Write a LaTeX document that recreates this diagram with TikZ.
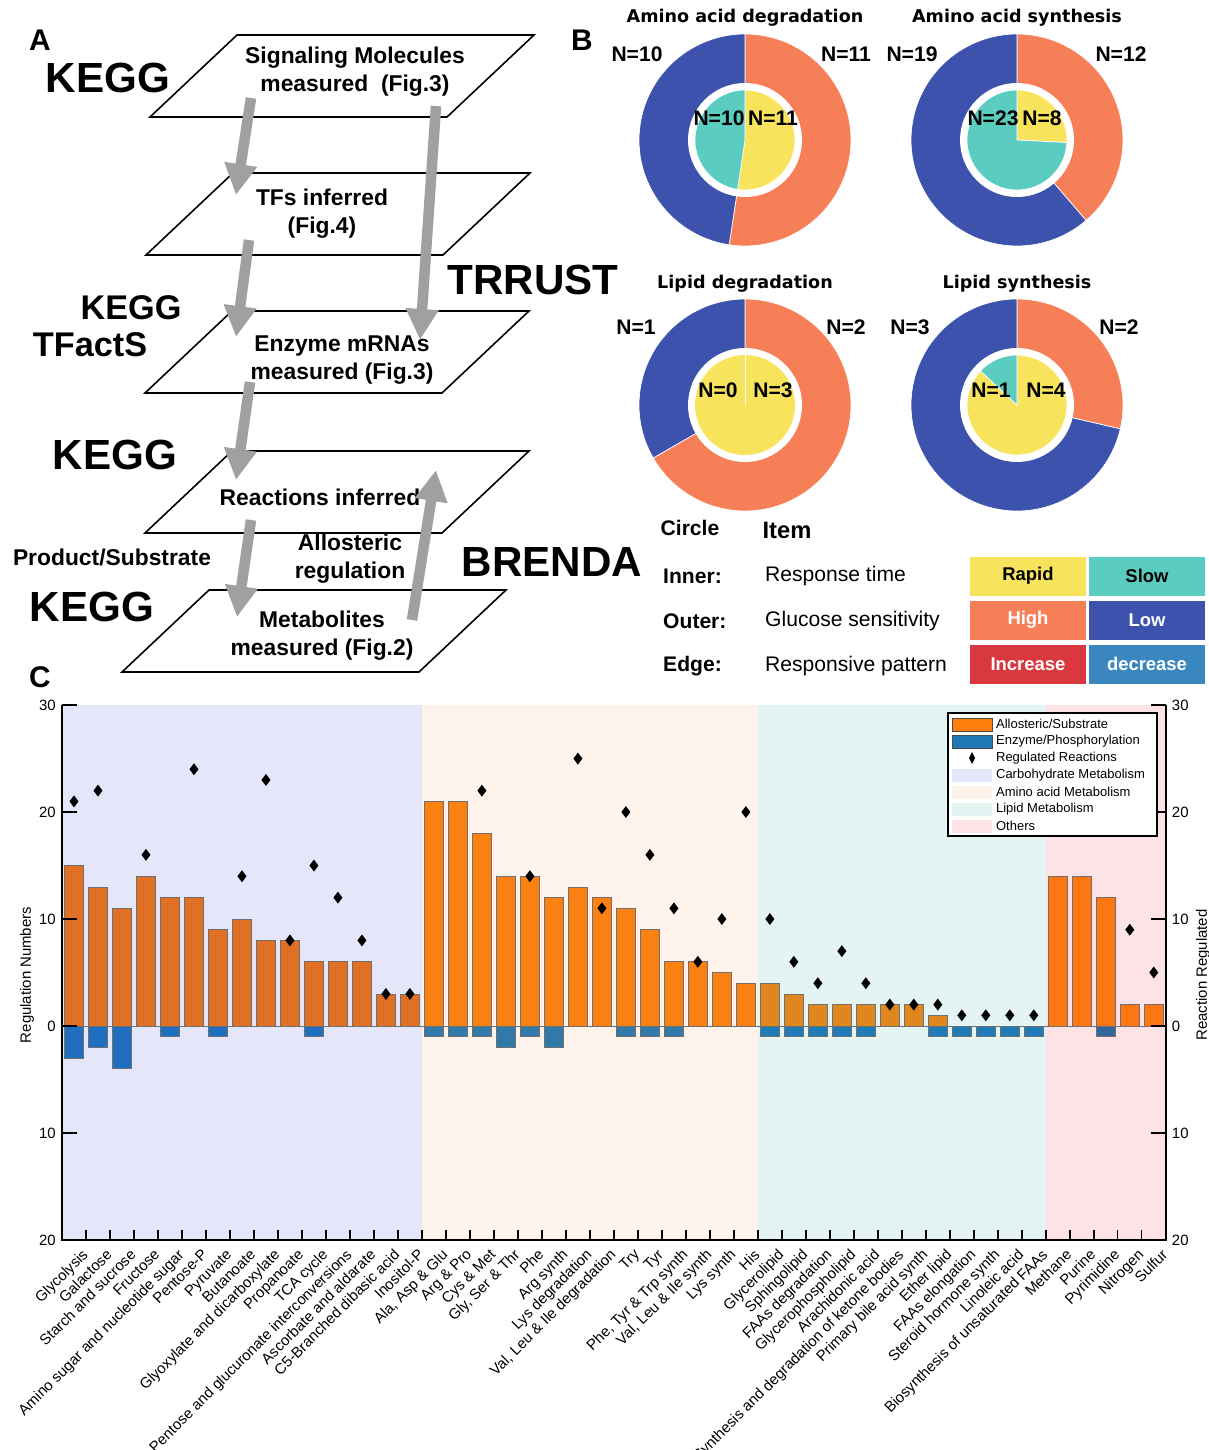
\documentclass[tikz,border=0pt]{standalone}
\usepackage{fontspec}
\setmainfont{Liberation Sans}
\newfontfamily\djv{DejaVu Sans}
\usetikzlibrary{arrows.meta}
\definecolor{pieor}{HTML}{F77F58}
\definecolor{piebl}{HTML}{3D52AC}
\definecolor{pieye}{HTML}{F8E45C}
\definecolor{pietl}{HTML}{5BCCC0}
\definecolor{incred}{HTML}{D9393E}
\definecolor{decbl}{HTML}{3A86BF}
\definecolor{bgcarb}{HTML}{E6E6FA}
\definecolor{bgamino}{HTML}{FDF3EA}
\definecolor{bglipid}{HTML}{E3F4F3}
\definecolor{bgother}{HTML}{FDE3E5}
\definecolor{arrgray}{HTML}{A0A0A0}
\definecolor{bargray}{HTML}{707070}
\definecolor{orcarb}{HTML}{E07024}
\definecolor{blcarb}{HTML}{1F6EBF}
\definecolor{oramino}{HTML}{FD8012}
\definecolor{blamino}{HTML}{3179A8}
\definecolor{orlipid}{HTML}{E0861F}
\definecolor{bllipid}{HTML}{1F7AB8}
\definecolor{orother}{HTML}{FE7612}
\definecolor{blother}{HTML}{33669F}
\definecolor{legor}{HTML}{FF7F0E}
\definecolor{legbl}{HTML}{1F77B4}

\newcommand{\plane}[2]{\draw[line width=0.9pt] (#1,#2) -- ++(297,0) -- ++(87,82) -- ++(-297,0) -- cycle;}
\newcommand{\slice}[5]{\fill[#5,draw=white,line width=0.4pt] (#1) -- ++(#2:#4) arc (#2:#3:#4) -- cycle;}
\newcommand{\barset}[4]{%
  \foreach \p/\n [count=\i from #1] in {#4} {
    \ifnum\p>0 \fill[#2,draw=bargray] (\i-0.9,0) rectangle (\i-0.1,\p); \fi
    \ifnum\n>0 \fill[#3,draw=bargray] (\i-0.9,0) rectangle (\i-0.1,-\n); \fi
  }}

\begin{document}
\begin{tikzpicture}[x=0.02cm,y=0.02cm,
  bigname/.style={font=\fontsize{24}{28}\selectfont\bfseries},
  midname/.style={font=\fontsize{19.5}{23}\selectfont\bfseries},
  planetext/.style={font=\fontsize{13}{16}\selectfont\bfseries,align=center},
  paneltag/.style={font=\fontsize{17}{20}\selectfont\bfseries},
  pietitle/.style={font=\djv\fontsize{10}{12}\selectfont\bfseries},
  nlab/.style={font=\fontsize{12}{14}\selectfont\bfseries},
  keyhead/.style={font=\fontsize{12}{14}\selectfont\bfseries,anchor=west},
  keytext/.style={font=\fontsize{12}{14}\selectfont,anchor=west},
  cell/.style={minimum width=2.32cm,minimum height=0.78cm,inner sep=0pt,
    font=\fontsize{10.5}{12}\selectfont\bfseries},
  bigarrow/.style={draw=arrgray,line width=6pt,-{Triangle[length=0.62cm,width=0.62cm]}},
  ticklab/.style={font=\fontsize{8.5}{10}\selectfont},
  catlab/.style={font=\fontsize{8.5}{10}\selectfont,rotate=45,anchor=north east,inner sep=1pt},
  leglab/.style={font=\fontsize{7.4}{9}\selectfont,anchor=west,inner sep=1pt}]
\useasboundingbox (0,0) rectangle (1209,-1450);

% panel A
\node[paneltag] (tagA) at (40,-40) {A};
\plane{150}{-117}
\plane{146}{-255}
\plane{145}{-393}
\plane{145}{-533}
\plane{122}{-672}
\node[planetext] (sig) at (355,-72) {Signaling Molecules\\measured\ \ (Fig.3)};
\node[planetext] (tfs) at (322,-214) {TFs inferred\\(Fig.4)};
\node[planetext] (enz) at (342,-360) {Enzyme mRNAs\\measured (Fig.3)};
\node[planetext] (rea) at (320,-497) {Reactions inferred};
\node[planetext] (met) at (322,-636) {Metabolites\\measured (Fig.2)};
\node[planetext] (allo) at (350,-559) {Allosteric\\regulation};
\coordinate (a1s) at (251,-98);  \coordinate (a1e) at (236,-195);
\coordinate (a2s) at (436,-106); \coordinate (a2e) at (420,-340);
\coordinate (a3s) at (249,-240); \coordinate (a3e) at (236,-337);
\coordinate (a4s) at (250,-382); \coordinate (a4e) at (236,-480);
\coordinate (a5s) at (251,-520); \coordinate (a5e) at (237,-617);
\coordinate (a6s) at (412,-620); \coordinate (a6e) at (436,-470);
\foreach \k in {1,...,6} \draw[bigarrow] (a\k s) -- (a\k e);
\node[bigname] (kegg1) at (108,-78) {KEGG};
\node[bigname] (trrust) at (533,-280) {TRRUST};
\node[midname] (kegg2) at (131,-308) {KEGG};
\node[midname] (tfacts) at (90,-345) {TFactS};
\node[bigname] (kegg3) at (115,-455) {KEGG};
\node[planetext] (prod) at (112,-557) {Product/Substrate};
\node[bigname] (kegg4) at (92,-607) {KEGG};
\node[bigname] (brenda) at (552,-562) {BRENDA};

% panel B
\node[paneltag] (tagB) at (582,-40) {B};
\coordinate (pie1) at (745,-140);
\coordinate (pie2) at (1017,-140);
\coordinate (pie3) at (745,-405);
\coordinate (pie4) at (1017,-405);
\slice{pie1}{90}{-98.57}{106}{pieor}
\slice{pie1}{-98.57}{-270}{106}{piebl}
\fill[white] (pie1) circle (57);
\slice{pie1}{90}{-98.57}{50}{pieye}
\slice{pie1}{-98.57}{-270}{50}{pietl}
\slice{pie2}{90}{-49.35}{106}{pieor}
\slice{pie2}{-49.35}{-270}{106}{piebl}
\fill[white] (pie2) circle (57);
\slice{pie2}{90}{-2.9}{50}{pieye}
\slice{pie2}{-2.9}{-270}{50}{pietl}
\slice{pie3}{90}{-150}{106}{pieor}
\slice{pie3}{-150}{-270}{106}{piebl}
\fill[white] (pie3) circle (57);
\fill[pieye] (pie3) circle (50);
\draw[white,line width=0.3pt] (pie3) -- ++(0,50);
\slice{pie4}{90}{-13}{106}{pieor}
\slice{pie4}{-13}{-270}{106}{piebl}
\fill[white] (pie4) circle (57);
\slice{pie4}{90}{-223}{50}{pieye}
\slice{pie4}{-223}{-270}{50}{pietl}
\node[pietitle] (t1) at (745,-18) {Amino acid degradation};
\node[pietitle] (t2) at (1017,-18) {Amino acid synthesis};
\node[pietitle] (t3) at (745,-284) {Lipid degradation};
\node[pietitle] (t4) at (1017,-284) {Lipid synthesis};
\node[nlab] (n1a) at (637,-54) {N=10};
\node[nlab] (n1b) at (846,-54) {N=11};
\node[nlab] (n1c) at (719,-118) {N=10};
\node[nlab] (n1d) at (773,-118) {N=11};
\node[nlab] (n2a) at (912,-54) {N=19};
\node[nlab] (n2b) at (1121,-54) {N=12};
\node[nlab] (n2c) at (993,-118) {N=23};
\node[nlab] (n2d) at (1042,-118) {N=8};
\node[nlab] (n3a) at (636,-327) {N=1};
\node[nlab] (n3b) at (846,-327) {N=2};
\node[nlab] (n3c) at (718,-390) {N=0};
\node[nlab] (n3d) at (773,-390) {N=3};
\node[nlab] (n4a) at (910,-327) {N=3};
\node[nlab] (n4b) at (1119,-327) {N=2};
\node[nlab] (n4c) at (991,-390) {N=1};
\node[nlab] (n4d) at (1046,-390) {N=4};

\node[font=\fontsize{12}{14}\selectfont\bfseries] (circ) at (690,-528) {Circle};
\node[font=\fontsize{13.5}{16}\selectfont\bfseries] (item) at (787,-530) {Item};
\node[keyhead] (inner) at (657,-576) {Inner:};
\node[keyhead] (outer) at (657,-621) {Outer:};
\node[keyhead] (edge) at (657,-666) {Edge:};
\node[keytext] (resp) at (759,-576) {Response time};
\node[keytext] (gluc) at (759,-621) {Glucose sensitivity};
\node[keytext] (patt) at (759,-666) {Responsive pattern};
\node[cell,fill=pieye] (rapid) at (1028,-576) {Rapid};
\node[cell,fill=pietl] (slow) at (1147,-576) {Slow};
\node[cell,fill=pieor,text=white] (high) at (1028,-620) {High};
\node[cell,fill=piebl,text=white] (low) at (1147,-620) {Low};
\node[cell,fill=incred,text=white] (incr) at (1028,-664) {Increase};
\node[cell,fill=decbl,text=white] (decr) at (1147,-664) {decrease};

% panel C
\node[paneltag] (tagC) at (40,-677) {C};
\begin{scope}[shift={(62,-1026)},x=0.48cm,y=0.214cm]
\fill[bgcarb] (0,-20) rectangle (15,30);
\fill[bgamino] (15,-20) rectangle (29,30);
\fill[bglipid] (29,-20) rectangle (41,30);
\fill[bgother] (41,-20) rectangle (46,30);
\draw[bargray,line width=0.4pt] (0,0) -- (46,0);
\barset{1}{orcarb}{blcarb}{15/3,13/2,11/4,14/0,12/1,12/0,9/1,10/0,8/0,8/0,6/1,6/0,6/0,3/0,3/0}
\barset{16}{oramino}{blamino}{21/1,21/1,18/1,14/2,14/1,12/2,13/0,12/0,11/1,9/1,6/1,6/0,5/0,4/0}
\barset{30}{orlipid}{bllipid}{4/1,3/1,2/1,2/1,2/1,2/0,2/0,1/1,0/1,0/1,0/1,0/1}
\barset{42}{orother}{blother}{14/0,14/0,12/1,2/0,2/0}
\foreach \i/\d in {1/21,2/22,4/16,6/24,8/14,9/23,10/8,11/15,12/12,13/8,14/3,15/3,
  18/22,20/14,22/25,23/11,24/20,25/16,26/11,27/6,28/10,29/20,
  30/10,31/6,32/4,33/7,34/4,35/2,36/2,37/2,38/1,39/1,40/1,41/1,45/9,46/5}
  \fill (\i-0.5,\d) +(0,0.12cm) -- +(0.09cm,0) -- +(0,-0.12cm) -- +(-0.09cm,0) -- cycle;
\draw[line width=1pt] (0,30) -- (0,-20) -- (46,-20) -- (46,30);
\foreach \k in {1,...,45} \draw[line width=0.8pt] (\k,-20) -- ++(0,0.2cm);
\foreach \t/\lab in {30/30,20/20,10/10,0/0,-10/10,-20/20} {
  \draw[line width=1pt] (0,\t) -- ++(0.3cm,0);
  \draw[line width=1pt] (46,\t) -- ++(-0.3cm,0);
  \node[ticklab,anchor=east] (yl\lab) at (0,\t) {\lab};
  \node[ticklab,anchor=west] (yr\lab) at (46,\t) {\lab};
}
\foreach \lab [count=\i] in {Glycolysis,Galactose,Starch and sucrose,Fructose,
  Amino sugar and nucleotide sugar,Pentose-P,Pyruvate,Butanoate,
  Glyoxylate and dicarboxylate,Propanoate,TCA cycle,
  Pentose and glucuronate interconversions,Ascorbate and aldarate,
  C5-Branched dibasic acid,Inositol-P,{Ala, Asp \& Glu},Arg \& Pro,Cys \& Met,
  {Gly, Ser \& Thr},Phe,Arg synth,Lys degradation,{Val, Leu \& Ile degradation},
  Try,Tyr,{Phe, Tyr \& Trp synth},{Val, Leu \& Ile synth},Lys synth,His,
  Glycerolipid,Sphingolipid,FAAs degradation,Glycerophospholipid,Arachidonic acid,
  Synthesis and degradation of ketone bodies,Primary bile acid synth,Ether lipid,
  FAAs elongation,Steroid hormone synth,Linoleic acid,
  Biosynthesis of unsaturated FAAs,Methane,Purine,Pyrimidine,Nitrogen,Sulfur}
  \node[catlab] (xl\i) at ([xshift=4pt,yshift=-3pt]\i-0.5,-20) {\lab};
\end{scope}
\node[ticklab,rotate=90] (ylab) at (27,-975) {Regulation Numbers};
\node[ticklab,rotate=90] (ylab2) at (1203,-975) {Reaction Regulated};

% legend
\draw[line width=1pt,fill=white] (948,-713) rectangle (1157,-836);
\fill[legor,draw=black!70] (952,-718) rectangle (992,-731);
\fill[legbl,draw=black!70] (952,-735) rectangle (992,-748);
\fill (972,-752) -- (975,-758) -- (972,-764) -- (969,-758) -- cycle;
\fill[bgcarb] (952,-769) rectangle (992,-782);
\fill[bgamino] (952,-786) rectangle (992,-799);
\fill[bglipid] (952,-803) rectangle (992,-816);
\fill[bgother] (952,-820) rectangle (992,-833);
\node[leglab] (lg1) at (994,-724) {Allosteric/Substrate};
\node[leglab] (lg2) at (994,-741) {Enzyme/Phosphorylation};
\node[leglab] (lg3) at (994,-758) {Regulated Reactions};
\node[leglab] (lg4) at (994,-775) {Carbohydrate Metabolism};
\node[leglab] (lg5) at (994,-792) {Amino acid Metabolism};
\node[leglab] (lg6) at (994,-809) {Lipid Metabolism};
\node[leglab] (lg7) at (994,-826) {Others};
\end{tikzpicture}
\end{document}
